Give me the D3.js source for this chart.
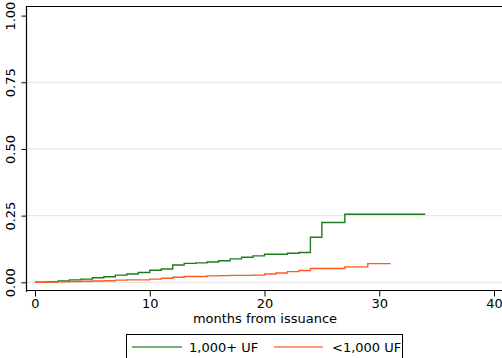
<!DOCTYPE html>
<meta charset="utf-8">
<script src="https://d3js.org/d3.v7.min.js"></script>
<style>
  body { margin: 0; background: #fff; }
  text { font-family: "DejaVu Sans", sans-serif; }
</style>
<body>
<div id="chart"></div>
<script>
// cumulative incidence by month, step function (value holds until next month)
var months = d3.range(0, 35);
var bigValues = [0, .002, .005, .009, .012, .017, .021, .027, .031, .037,
                 .045, .05, .065, .071, .073, .076, .081, .088, .094, .099,
                 .105, .105, .109, .112, .169, .224, .224, .255, .255, .255,
                 .255, .255, .255, .255, .255];
var smallValues = [0, .001, .002, .003, .004, .005, .006, .008, .009, .009,
                   .012, .015, .019, .022, .022, .024, .025, .026, .026, .027,
                   .031, .035, .04, .044, .052, .052, .052, .058, .058, .07,
                   .07, .07];
var seriesNames = ["1,000+ UF", "<1,000 UF"];
var seriesColors = ["#1f7a1f", "#ff5a1f"];
var xTicks = [0, 10, 20, 30, 40];
var yTicks = [0, .25, .5, .75, 1];

var W = 502, H = 358;
var svg = d3.select("#chart").append("svg")
  .attr("width", W).attr("height", H);

var x = d3.scaleLinear().domain([0, 40]).range([35, 494]);
var y = d3.scaleLinear().domain([0, 1]).range([282.3, 15.6]);

// gridlines
svg.append("g").selectAll("line")
  .data(yTicks.filter(d => d < 1))
  .enter().append("line")
  .attr("x1", 27).attr("x2", W)
  .attr("y1", d => y(d)).attr("y2", d => y(d))
  .attr("stroke", "#e6e6e6").attr("stroke-width", 1.2);

// frame (top + left)
svg.append("path")
  .attr("d", "M26.5,292 V6.5 H" + (W + 5))
  .attr("fill", "none").attr("stroke", "#000").attr("stroke-width", 1.2);

// x axis
var xAxis = svg.append("g")
  .attr("transform", "translate(0,290.5)")
  .call(d3.axisBottom(x).tickValues(xTicks).tickSize(6).tickPadding(2).tickFormat(d3.format("d")));
xAxis.select(".domain").attr("d", "M26,0H" + (W + 5)).attr("stroke-width", 1.2);
xAxis.selectAll("text").style("font-size", "13px").attr("fill", "#000");

svg.append("text")
  .attr("x", 265).attr("y", 323)
  .attr("text-anchor", "middle")
  .style("font-size", "13px")
  .text("months from issuance");

// y axis
var yAxis = svg.append("g")
  .attr("transform", "translate(26.5,0)")
  .call(d3.axisLeft(y).tickValues(yTicks).tickSize(5).tickFormat(d3.format(".2f")));
yAxis.select(".domain").remove();
yAxis.selectAll("text")
  .attr("x", 0).attr("y", 0).attr("dy", 0)
  .attr("transform", "translate(-11.5,0) rotate(-90)")
  .attr("text-anchor", "middle")
  .style("font-size", "13px")
  .attr("fill", "#000");

// step lines
var line = d3.line()
  .x(d => x(d[0])).y(d => y(d[1]))
  .curve(d3.curveStepAfter);

var bigPts = bigValues.map((v, i) => [months[i], v]);
var smallPts = smallValues.map((v, i) => [months[i], v]);

[bigPts, smallPts].forEach(function(pts, i) {
  svg.append("path")
    .attr("d", line(pts))
    .attr("fill", "none")
    .attr("stroke", seriesColors[i])
    .attr("stroke-width", 1.4);
});

// legend
var lg = svg.append("g");
lg.append("rect")
  .attr("x", 126.5).attr("y", 334.5)
  .attr("width", 276).attr("height", 30)
  .attr("fill", "#fff").attr("stroke", "#000").attr("stroke-width", 1);
var legX = [[132, 182, 189], [274, 323, 332]];
seriesNames.forEach(function(name, i) {
  lg.append("line")
    .attr("x1", legX[i][0]).attr("x2", legX[i][1])
    .attr("y1", 347).attr("y2", 347)
    .attr("stroke", seriesColors[i]).attr("stroke-width", 1.4).attr("opacity", 0.8);
  lg.append("text")
    .attr("x", legX[i][2]).attr("y", 352)
    .style("font-size", "13px")
    .text(name);
});
</script>
</body>
